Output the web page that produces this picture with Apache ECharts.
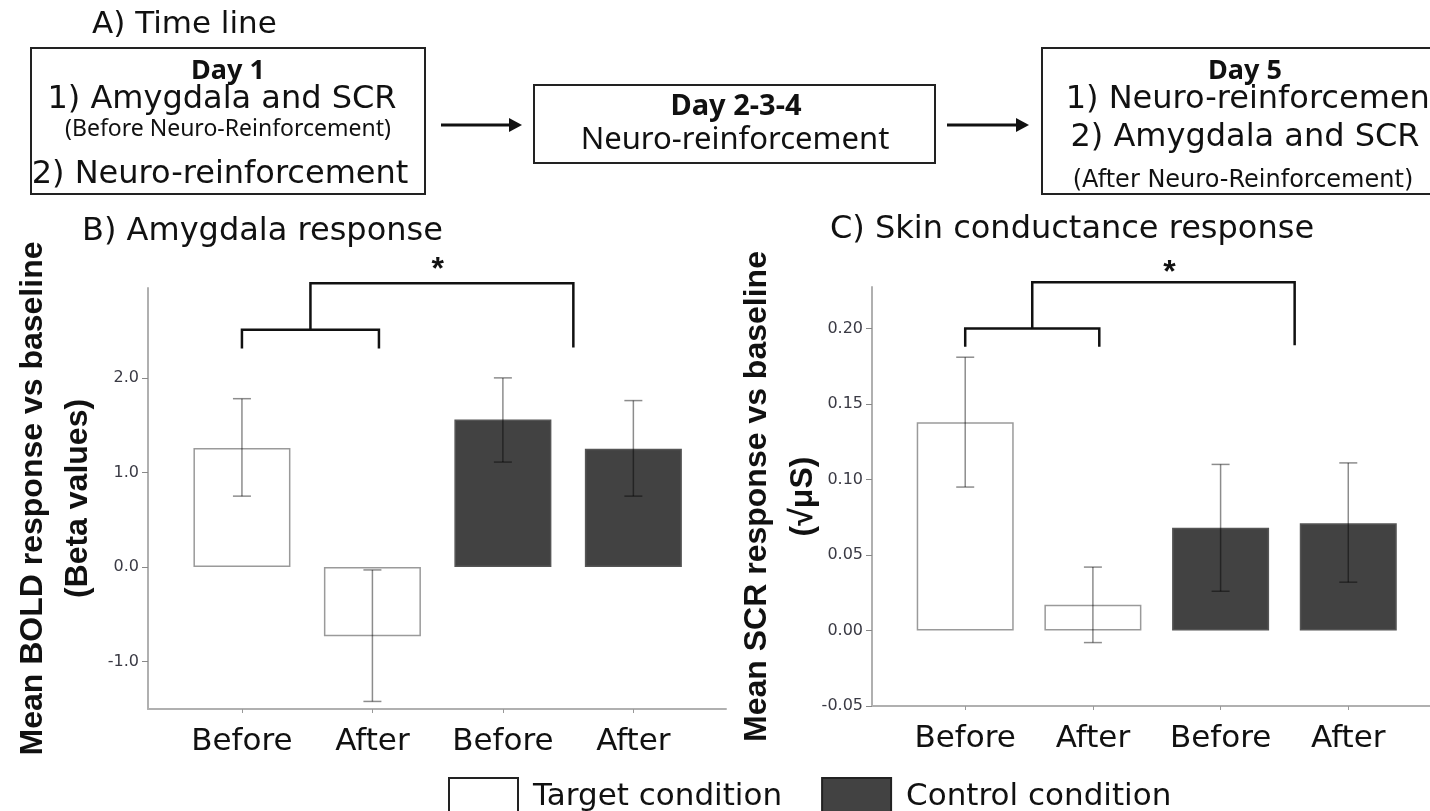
<!DOCTYPE html>
<html>
<head>
<meta charset="utf-8">
<title>Neuro-reinforcement: amygdala and SCR</title>
<script src="https://cdn.jsdelivr.net/npm/echarts@6/dist/echarts.min.js"></script>
<style>
  html, body { margin: 0; padding: 0; background: #fff; }
  #chart { width: 1430px; height: 811px; }
</style>
</head>
<body>
<div id="chart"></div>
<script>
// categories (x positions 0..3)
const categories = ['Before', 'After', 'Before', 'After'];
const targetX = [0, 1];
const controlX = [2, 3];

// B) amygdala, beta values
const bTarget = [1.26, -0.73];
const bControl = [1.56, 1.25];
const bTargetErr = [[0.75, 1.78], [-1.42, -0.03]];
const bControlErr = [[1.11, 2.00], [0.75, 1.76]];
const bTicks = [-1, 0, 1, 2];

// C) skin conductance, sqrt(uS)
const cTarget = [0.138, 0.017];
const cControl = [0.068, 0.071];
const cTargetErr = [[0.095, 0.181], [-0.008, 0.042]];
const cControlErr = [[0.026, 0.110], [0.032, 0.111]];
const cTicks = [-0.05, 0, 0.05, 0.10, 0.15, 0.20];

// significance brackets: [xLeft, xRight, yLeftLeg, yTop, yRightLeg]
const bBrackets = [[0, 1.05, 2.31, 2.51, 2.31], [0.525, 2.54, 2.51, 3.0, 2.32]];
const cBrackets = [[0, 1.05, 0.188, 0.200, 0.188], [0.525, 2.58, 0.200, 0.2307, 0.189]];
const bStar = [1.5, 3.22];
const cStar = [1.6, 0.242];

const SANS = '"DejaVu Sans", sans-serif';
const ARIAL = '"Liberation Sans", Arial, sans-serif';
const CALIBRI = '"Noto Sans", sans-serif';

const chart = echarts.init(document.getElementById('chart'));

function pairs(xs, ys) {
    return xs.map((x, i) => [x, ys[i]]);
}
function errData(xs, errs) {
    return xs.map((x, i) => [x, errs[i][0], errs[i][1]]);
}

function renderErr(params, api) {
    const x = api.value(0);
    const lo = api.coord([x, api.value(1)]);
    const hi = api.coord([x, api.value(2)]);
    const w = 9;
    const style = { stroke: 'rgba(0,0,0,0.45)', lineWidth: 1.5 };
    return {
        type: 'group',
        children: [
            { type: 'line', shape: { x1: lo[0], y1: lo[1], x2: hi[0], y2: hi[1] }, style: style },
            { type: 'line', shape: { x1: lo[0] - w, y1: lo[1], x2: lo[0] + w, y2: lo[1] }, style: style },
            { type: 'line', shape: { x1: hi[0] - w, y1: hi[1], x2: hi[0] + w, y2: hi[1] }, style: style }
        ]
    };
}

function renderBracket(params, api) {
    const a = api.coord([api.value(0), api.value(2)]);
    const b = api.coord([api.value(0), api.value(3)]);
    const c = api.coord([api.value(1), api.value(3)]);
    const d = api.coord([api.value(1), api.value(4)]);
    return {
        type: 'polyline',
        shape: { points: [a, b, c, d] },
        style: { stroke: '#111', lineWidth: 2.5, fill: null }
    };
}

function renderStar(params, api) {
    const p = api.coord([api.value(0), api.value(1)]);
    return {
        type: 'text',
        x: p[0],
        y: p[1] + 8,
        style: {
            text: '*', fontSize: 32, fontWeight: 'bold', fontFamily: ARIAL,
            fill: '#111', align: 'center', verticalAlign: 'middle'
        }
    };
}

function xAxisFor(gridIndex, min, max) {
    return {
        type: 'value', gridIndex: gridIndex, min: min, max: max,
        axisLine: { show: true, onZero: false, lineStyle: { color: '#b0b0b0', width: 2 } },
        axisTick: { show: true, customValues: [0, 1, 2, 3], length: 4, lineStyle: { color: '#999' } },
        axisLabel: {
            customValues: [0, 1, 2, 3],
            formatter: v => categories[Math.round(v)],
            fontFamily: SANS, fontSize: 31, color: '#111', margin: 17
        },
        splitLine: { show: false }
    };
}

function yAxisFor(gridIndex, min, max, ticks, digits, name, gap, lh) {
    return {
        type: 'value', gridIndex: gridIndex, min: min, max: max,
        name: name, nameLocation: 'middle', nameRotate: 90, nameGap: gap,
        nameMoveOverlap: false,
        nameTextStyle: { fontFamily: ARIAL, fontSize: 32, fontWeight: 'bold', color: '#111', lineHeight: lh },
        axisLine: { show: true, onZero: false, lineStyle: { color: '#b0b0b0', width: 2 } },
        axisTick: { show: true, customValues: ticks, length: 6, lineStyle: { color: '#888' } },
        axisLabel: {
            customValues: ticks,
            formatter: v => v.toFixed(digits),
            fontFamily: SANS, fontSize: 16, color: '#3a3a44', margin: 9
        },
        splitLine: { show: false }
    };
}

function barSeries(name, idx, data, fill, border) {
    return {
        name: name, type: 'bar', xAxisIndex: idx, yAxisIndex: idx,
        data: data, barWidth: 97, barGap: '-100%', z: 2,
        itemStyle: { color: fill, borderColor: border, borderWidth: 1.5 }
    };
}

function customSeries(idx, data, render, z) {
    return {
        type: 'custom', xAxisIndex: idx, yAxisIndex: idx,
        data: data, renderItem: render, z: z, silent: true
    };
}

function txt(x, y, text, size, family, weight, align) {
    return {
        type: 'text', x: x, y: y,
        style: {
            text: text, fontSize: size, fontFamily: family, fontWeight: weight || 'normal',
            fill: '#111', align: align || 'center', verticalAlign: 'middle'
        }
    };
}
function box(x, y, w, h) {
    return {
        type: 'rect', shape: { x: x, y: y, width: w, height: h },
        style: { fill: '#fff', stroke: '#222', lineWidth: 2 }
    };
}
function arrow(x1, x2, y) {
    return {
        type: 'group',
        children: [
            { type: 'line', shape: { x1: x1, y1: y, x2: x2 - 10, y2: y }, style: { stroke: '#111', lineWidth: 3 } },
            { type: 'polygon', shape: { points: [[x2 - 13, y - 7], [x2, y], [x2 - 13, y + 7]] }, style: { fill: '#111' } }
        ]
    };
}

const option = {
    backgroundColor: '#fff',
    animation: false,
    legend: {
        left: 443, top: 772,
        itemWidth: 69, itemHeight: 37, itemGap: 39,
        selectedMode: false,
        textStyle: { fontFamily: SANS, fontSize: 31, color: '#111', padding: [0, 0, 0, 10] },
        data: [
            { name: 'Target condition', icon: 'rect', itemStyle: { color: '#fff', borderColor: '#222', borderWidth: 2 } },
            { name: 'Control condition', icon: 'rect', itemStyle: { color: '#424242', borderColor: '#222', borderWidth: 2 } }
        ]
    },
    grid: [
        { left: 148, right: 704, top: 288, bottom: 102 },
        { left: 872, right: 0, top: 287, bottom: 105 }
    ],
    xAxis: [xAxisFor(0, -0.72, 3.71), xAxisFor(1, -0.73, 3.64)],
    yAxis: [
        yAxisFor(0, -1.5, 2.95, bTicks, 1, 'Mean BOLD response vs baseline\n(Beta values)', 47, 45),
        yAxisFor(1, -0.05, 0.2275, cTicks, 2, 'Mean SCR response vs baseline\n(\u221A\u03BCS)', 46, 46)
    ],
    series: [
        barSeries('Target condition', 0, pairs(targetX, bTarget), '#fff', '#9a9a9a'),
        barSeries('Control condition', 0, pairs(controlX, bControl), '#424242', '#555'),
        customSeries(0, errData(targetX, bTargetErr).concat(errData(controlX, bControlErr)), renderErr, 3),
        customSeries(0, bBrackets, renderBracket, 4),
        customSeries(0, [bStar], renderStar, 4),
        barSeries('Target condition', 1, pairs(targetX, cTarget), '#fff', '#9a9a9a'),
        barSeries('Control condition', 1, pairs(controlX, cControl), '#424242', '#555'),
        customSeries(1, errData(targetX, cTargetErr).concat(errData(controlX, cControlErr)), renderErr, 3),
        customSeries(1, cBrackets, renderBracket, 4),
        customSeries(1, [cStar], renderStar, 4)
    ],
    graphic: [
        txt(92, 25, 'A) Time line', 31, SANS, 'normal', 'left'),
        box(31, 48, 394, 146),
        txt(228, 71, 'Day 1', 27, CALIBRI, 'bold'),
        txt(222, 100, '1) Amygdala and SCR', 32, SANS),
        txt(228, 129, '(Before Neuro-Reinforcement)', 23, CALIBRI),
        txt(220, 175, '2) Neuro-reinforcement', 32, SANS),
        arrow(441, 522, 125),
        box(534, 85, 401, 78),
        txt(736, 107, 'Day 2-3-4', 29, CALIBRI, 'bold'),
        txt(735, 140, 'Neuro-reinforcement', 31, CALIBRI),
        arrow(947, 1029, 125),
        box(1042, 48, 394, 146),
        txt(1245, 71, 'Day 5', 27, CALIBRI, 'bold'),
        txt(1254, 100, '1) Neuro-reinforcement', 32, SANS),
        txt(1245, 138, '2) Amygdala and SCR', 32, SANS),
        txt(1243, 181, '(After Neuro-Reinforcement)', 24, SANS),
        txt(82, 232, 'B) Amygdala response', 32, SANS, 'normal', 'left'),
        txt(830, 230, 'C) Skin conductance response', 32, SANS, 'normal', 'left')
    ]
};

chart.setOption(option);
</script>
</body>
</html>
